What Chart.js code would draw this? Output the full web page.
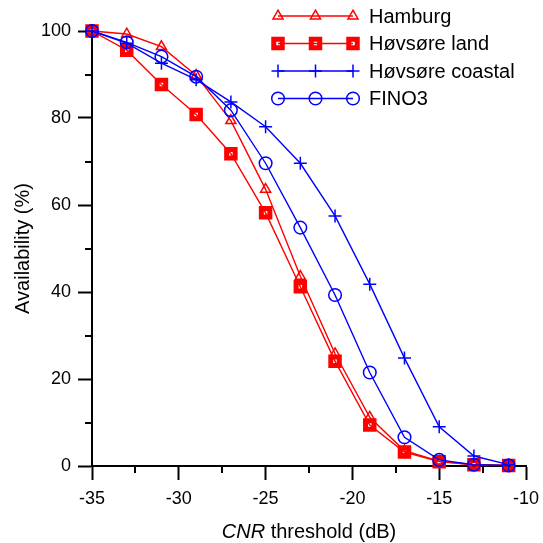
<!DOCTYPE html>
<html lang="en">
<head>
  <meta charset="UTF-8">
  <title>Availability vs CNR threshold</title>
  <script src="https://cdn.jsdelivr.net/npm/chart.js"></script>
  <style>
    html, body { margin: 0; padding: 0; background: #fff; }
  </style>
</head>
<body>
  <canvas id="cnrChart" width="543" height="543"></canvas>

  <script>
    // CNR thresholds (dB) on the x axis
    var thresholds = [-35, -33, -31, -29, -27, -25, -23, -21, -19, -17, -15, -13, -11];

    // availability (%) per site
    var hamburg       = [100, 99.3, 96.4, 89.8, 79.4, 63.6, 43.6, 25.8, 11.2, 3.5, 1.1, 0.3, 0.1];
    var hovsoreLand   = [100, 95.6, 87.7, 80.8, 71.8, 58.2, 41.2, 24.1, 9.4, 3.2, 1.0, 0.3, 0.1];
    var hovsoreCoast  = [100, 97.2, 92.6, 88.8, 83.7, 78.0, 69.6, 57.5, 41.8, 24.8, 9.0, 2.3, 0.3];
    var fino3         = [100, 97.4, 94.1, 89.5, 81.8, 69.6, 54.8, 39.3, 21.5, 6.6, 1.4, 0.3, 0.1];

    var seriesNames = ['Hamburg', 'Høvsøre land', 'Høvsøre coastal', 'FINO3'];

    var FONT = "'Liberation Sans', Arial, sans-serif";
    var RED = '#ff0000';
    var BLUE = '#0000ff';
    var LINE_W = 1.4;

    function toPoints(values) {
      return thresholds.map(function(x, i) { return { x: x, y: values[i] }; });
    }

    // minor ticks, custom legend and axis titles
    var decorPlugin = {
      id: 'decor',
      afterDraw: function(chart) {
        var ctx = chart.ctx;
        var area = chart.chartArea;
        var xs = chart.scales.x;
        var ys = chart.scales.y;
        ctx.save();

        // minor ticks
        ctx.strokeStyle = '#000';
        ctx.lineWidth = 2;
        ctx.beginPath();
        xs.ticks.forEach(function(t) {
          if (t.value % 5 !== 0) {
            var px = Math.round(xs.getPixelForValue(t.value));
            ctx.moveTo(px, area.bottom);
            ctx.lineTo(px, area.bottom + 7);
          }
        });
        ys.ticks.forEach(function(t) {
          if (t.value % 20 !== 0) {
            var py = Math.round(ys.getPixelForValue(t.value));
            ctx.moveTo(area.left, py);
            ctx.lineTo(area.left - 7, py);
          }
        });
        ctx.stroke();

        // legend
        var rowY = [16, 43.5, 71, 98.5];
        chart.data.datasets.forEach(function(ds, i) {
          var y = rowY[i];
          ctx.strokeStyle = ds.borderColor;
          ctx.lineWidth = LINE_W;
          ctx.beginPath();
          ctx.moveTo(278, y);
          ctx.lineTo(353, y);
          ctx.stroke();
          [278, 315.5, 353].forEach(function(mx) {
            ctx.strokeStyle = ds.pointBorderColor;
            ctx.fillStyle = 'rgba(0,0,0,0)';
            ctx.lineWidth = ds.pointBorderWidth;
            Chart.helpers.drawPoint(ctx, {
              pointStyle: ds.pointStyle,
              radius: ds.pointRadius,
              rotation: 0,
              borderWidth: ds.pointBorderWidth
            }, mx, y);
          });
          ctx.fillStyle = '#000';
          ctx.font = '20px ' + FONT;
          ctx.textAlign = 'left';
          ctx.textBaseline = 'middle';
          ctx.fillText(ds.label, 369, y + 1);
        });

        // x axis title, CNR in italics
        var cx = (area.left + area.right) / 2;
        ctx.fillStyle = '#000';
        ctx.textBaseline = 'alphabetic';
        ctx.font = 'italic 20px ' + FONT;
        var part1 = 'CNR';
        var w1 = ctx.measureText(part1).width;
        ctx.font = '20px ' + FONT;
        var part2 = ' threshold (dB)';
        var w2 = ctx.measureText(part2).width;
        var startX = cx - (w1 + w2) / 2;
        ctx.font = 'italic 20px ' + FONT;
        ctx.textAlign = 'left';
        ctx.fillText(part1, startX, 538);
        ctx.font = '20px ' + FONT;
        ctx.fillText(part2, startX + w1, 538);

        // y axis title
        ctx.translate(23, (area.top + area.bottom) / 2);
        ctx.rotate(-Math.PI / 2);
        ctx.textAlign = 'center';
        ctx.textBaseline = 'middle';
        ctx.fillText('Availability (%)', 0, 0);

        ctx.restore();
      }
    };

    var ctx = document.getElementById('cnrChart').getContext('2d');
    var chart = new Chart(ctx, {
      type: 'scatter',
      data: {
        datasets: [{
          label: seriesNames[0],
          data: toPoints(hamburg),
          borderColor: RED,
          pointBorderColor: RED,
          pointBackgroundColor: 'rgba(0,0,0,0)',
          pointStyle: 'triangle',
          pointRadius: 5.8,
          pointBorderWidth: 1.5,
          order: 4
        }, {
          label: seriesNames[1],
          data: toPoints(hovsoreLand),
          borderColor: RED,
          pointBorderColor: RED,
          pointBackgroundColor: 'rgba(0,0,0,0)',
          pointStyle: 'rect',
          pointRadius: 6,
          pointBorderWidth: 5,
          order: 3
        }, {
          label: seriesNames[2],
          data: toPoints(hovsoreCoast),
          borderColor: BLUE,
          pointBorderColor: BLUE,
          pointBackgroundColor: 'rgba(0,0,0,0)',
          pointStyle: 'cross',
          pointRadius: 6.5,
          pointBorderWidth: 1.5,
          order: 2
        }, {
          label: seriesNames[3],
          data: toPoints(fino3),
          borderColor: BLUE,
          pointBorderColor: BLUE,
          pointBackgroundColor: 'rgba(0,0,0,0)',
          pointStyle: 'circle',
          pointRadius: 6.3,
          pointBorderWidth: 1.5,
          order: 1
        }]
      },
      options: {
        responsive: false,
        animation: false,
        devicePixelRatio: 1,
        layout: { padding: { left: 0, right: 17, top: 31, bottom: 0 } },
        datasets: {
          scatter: { showLine: true, borderWidth: LINE_W, clip: false, pointHoverRadius: 6 }
        },
        plugins: {
          legend: { display: false },
          tooltip: { enabled: false }
        },
        scales: {
          x: {
            type: 'linear',
            position: 'bottom',
            min: -35,
            max: -10,
            afterFit: function(s) { s.height = 77; s.paddingLeft = 0; s.paddingRight = 0; },
            border: { display: true, color: '#000', width: 2 },
            grid: {
              drawOnChartArea: false,
              drawTicks: true,
              tickLength: 14,
              tickWidth: 2,
              tickColor: function(c) { return c.tick && c.tick.value % 5 === 0 ? '#000' : 'rgba(0,0,0,0)'; }
            },
            ticks: {
              stepSize: 2.5,
              autoSkip: false,
              maxRotation: 0,
              padding: 8,
              color: '#000',
              font: { family: FONT, size: 18 },
              callback: function(v) { return v % 5 === 0 ? String(v) : ''; }
            }
          },
          y: {
            type: 'linear',
            min: 0,
            max: 100,
            afterFit: function(s) { s.width = 92; s.paddingTop = 0; s.paddingBottom = 0; },
            border: { display: true, color: '#000', width: 2 },
            grid: {
              drawOnChartArea: false,
              drawTicks: true,
              tickLength: 14,
              tickWidth: 2,
              tickColor: function(c) { return c.tick && c.tick.value % 20 === 0 ? '#000' : 'rgba(0,0,0,0)'; }
            },
            ticks: {
              stepSize: 10,
              autoSkip: false,
              padding: 7,
              color: '#000',
              font: { family: FONT, size: 18 },
              callback: function(v) { return v % 20 === 0 ? String(v) : ''; }
            }
          }
        }
      },
      plugins: [decorPlugin]
    });
  </script>
</body>
</html>
